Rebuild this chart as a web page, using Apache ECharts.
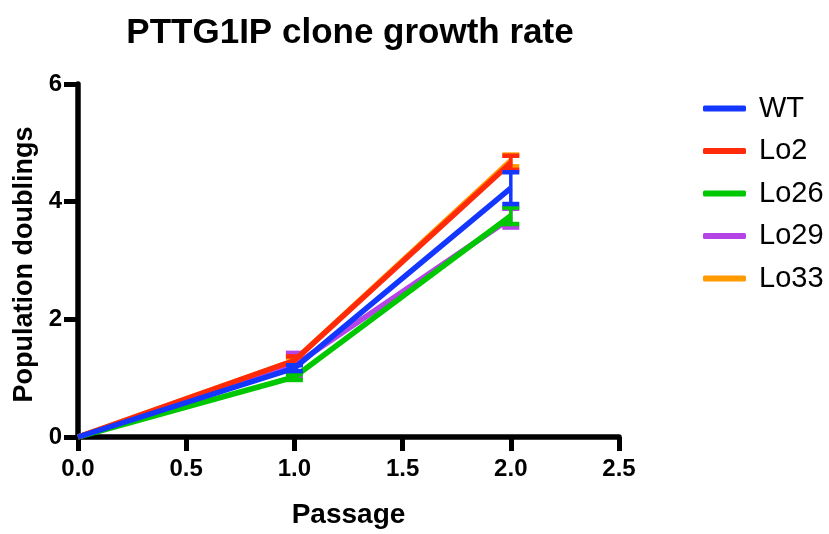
<!DOCTYPE html>
<html><head><meta charset="utf-8">
<script src="https://cdn.jsdelivr.net/npm/echarts@6/dist/echarts.min.js"></script>
<style>html,body{margin:0;padding:0;background:#fff}#c{width:829px;height:534px}</style>
</head><body><div id="c"></div>
<script>
const passages = [0, 1, 2];
const groups = ['WT', 'Lo2', 'Lo26', 'Lo29', 'Lo33'];
const meanWT = [0, 1.17, 4.23];
const meanLo2 = [0, 1.30, 4.66];
const meanLo26 = [0, 1.02, 3.76];
const meanLo29 = [0, 1.22, 3.72];
const meanLo33 = [0, 1.30, 4.70];
const errWT = [0, 0.05, 0.27];
const errLo2 = [0, 0.07, 0.12];
const errLo26 = [0, 0.05, 0.14];
const errLo29 = [0, 0.21, 0.16];
const errLo33 = [0, 0.05, 0.10];
const xTicks = [0, 0.5, 1.0, 1.5, 2.0, 2.5];
const yTicks = [0, 2, 4, 6];

const colors = {WT:'#1437ff', Lo2:'#ff2a0a', Lo26:'#00c800', Lo29:'#b444e6', Lo33:'#ff9a00'};
const means = {WT:meanWT, Lo2:meanLo2, Lo26:meanLo26, Lo29:meanLo29, Lo33:meanLo33};
const errs = {WT:errWT, Lo2:errLo2, Lo26:errLo26, Lo29:errLo29, Lo33:errLo33};
const FONT = 'Arial, "Liberation Sans", Helvetica, sans-serif';

const series = [];
// draw in reverse order so WT ends on top
groups.slice().reverse().forEach((g, i) => {
  const z = 2 + i;
  series.push({
    name: g, type: 'line', z: z,
    data: passages.map((p, k) => [p, means[g][k]]),
    showSymbol: false, symbol: 'none',
    lineStyle: {color: colors[g], width: 5.5},
    itemStyle: {color: colors[g]},
    animation: false
  });
  series.push({
    name: g, type: 'custom', z: z,
    itemStyle: {color: colors[g]},
    data: passages.map((p, k) => [p, means[g][k], errs[g][k]]).filter(d => d[2] > 0),
    renderItem: function(params, api) {
      const x = api.value(0), m = api.value(1), e = api.value(2);
      const hi = api.coord([x, m + e]), lo = api.coord([x, m - e]);
      const w = 8.5;
      const st = {stroke: colors[g], lineWidth: 3.5};
      return {type: 'group', children: [
        {type: 'line', shape: {x1: hi[0], y1: hi[1], x2: lo[0], y2: lo[1]}, style: st},
        {type: 'line', shape: {x1: hi[0]-w, y1: hi[1], x2: hi[0]+w, y2: hi[1]}, style: {stroke: colors[g], lineWidth: 4.5}},
        {type: 'line', shape: {x1: lo[0]-w, y1: lo[1], x2: lo[0]+w, y2: lo[1]}, style: {stroke: colors[g], lineWidth: 4.5}}
      ]};
    },
    silent: true
  });
});

const chart = echarts.init(document.getElementById('c'), null, {renderer: 'canvas'});
chart.setOption({
  animation: false,
  backgroundColor: '#fff',
  title: {
    text: 'PTTG1IP clone growth rate', left: 345, top: 11, textAlign: 'center',
    textStyle: {fontFamily: FONT, fontWeight: 'bold', fontSize: 35, color: '#000'}
  },
  legend: {
    data: groups.map(g => ({name: g, itemStyle: {color: colors[g]}})),
    orient: 'vertical', left: 698, top: 89,
    itemWidth: 43, itemHeight: 6, itemGap: 13.5, icon: 'roundRect',
    textStyle: {fontFamily: FONT, fontSize: 29, color: '#000', padding: [0, 0, 0, 8]}
  },
  grid: {left: 78, top: 84, width: 541, height: 358, containLabel: false},
  xAxis: {
    type: 'value', min: 0, max: 2.5, interval: 0.5,
    name: 'Passage', nameLocation: 'middle', nameGap: 64,
    nameTextStyle: {fontFamily: FONT, fontWeight: 'bold', fontSize: 28, color: '#000'},
    axisLine: {lineStyle: {color: '#000', width: 5.5}},
    axisTick: {show: true, length: 14, lineStyle: {color: '#000', width: 5}},
    axisLabel: {fontFamily: FONT, fontWeight: 'bold', fontSize: 24, color: '#000', margin: 20,
      formatter: v => v.toFixed(1)},
    splitLine: {show: false}
  },
  yAxis: {
    type: 'value', min: 0, max: 6, interval: 2,
    name: 'Population doublings', nameLocation: 'middle', nameGap: 38,
    nameTextStyle: {fontFamily: FONT, fontWeight: 'bold', fontSize: 27, color: '#000', padding: [0, 8, 0, 0]},
    axisLine: {lineStyle: {color: '#000', width: 5.5}},
    axisTick: {show: true, length: 14, lineStyle: {color: '#000', width: 5}},
    axisLabel: {fontFamily: FONT, fontWeight: 'bold', fontSize: 24, color: '#000', margin: 16},
    splitLine: {show: false}
  },
  series: series
});
</script></body></html>
